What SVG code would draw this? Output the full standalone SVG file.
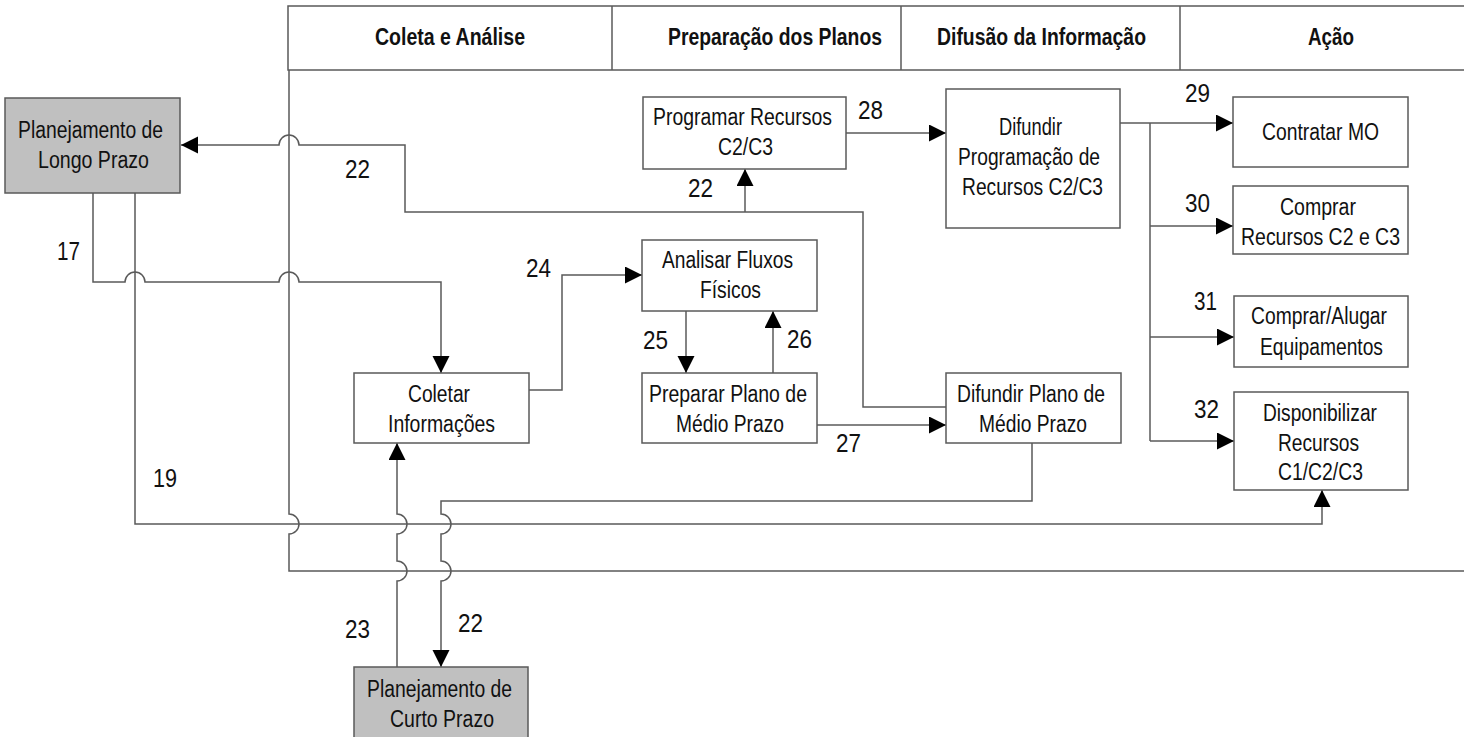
<svg xmlns="http://www.w3.org/2000/svg" width="1464" height="737" viewBox="0 0 1464 737">
  <style>
    .box { fill: #ffffff; stroke: #5a5a5a; stroke-width: 1.5; }
    .plan { fill: #c0c0c0; stroke: #5a5a5a; stroke-width: 1.5; }
    .wire { fill: none; stroke: #5a5a5a; stroke-width: 1.5; }
    .arr { fill: none; stroke: #5a5a5a; stroke-width: 1.5; marker-end: url(#head); }
    text { font-family: "Liberation Sans Narrow", "Liberation Sans", Arial, sans-serif; fill: #111111; }
    .lbl { font-size: 23.5px; text-anchor: middle; }
    .num { font-size: 26px; }
    .hdr { font-size: 23px; font-weight: bold; text-anchor: middle; }
  </style>
  <defs>
    <marker id="head" markerUnits="userSpaceOnUse" markerWidth="18" markerHeight="18" refX="17" refY="8.5" orient="auto">
      <path d="M0,0 L17,8.5 L0,17 Z" fill="#000000"/>
    </marker>
  </defs>

  <rect width="1464" height="737" fill="#ffffff"/>

  <!-- phase header -->
  <g id="header">
    <rect class="box" x="288" y="6" width="1190" height="64"/>
    <line class="wire" x1="612" y1="6" x2="612" y2="70"/>
    <line class="wire" x1="901" y1="6" x2="901" y2="70"/>
    <line class="wire" x1="1180" y1="6" x2="1180" y2="70"/>
    <text class="hdr" x="450" y="45" textLength="150" lengthAdjust="spacingAndGlyphs">Coleta e Análise</text>
    <text class="hdr" x="775" y="45" textLength="214" lengthAdjust="spacingAndGlyphs">Preparação dos Planos</text>
    <text class="hdr" x="1041.5" y="45" textLength="209" lengthAdjust="spacingAndGlyphs">Difusão da Informação</text>
    <text class="hdr" x="1331" y="45" textLength="46" lengthAdjust="spacingAndGlyphs">Ação</text>
  </g>

  <!-- connectors -->
  <g id="connectors">
    <!-- frame of the planning area -->
    <path class="wire" d="M289,70 V514 A10,10 0 0 1 289,534 V571 H1470"/>
    <!-- 22: medium-term plan back to long-term planning -->
    <path class="arr" d="M946,407 H863 V212 H405 V145 H299 A10,10 0 0 0 279,145 H181"/>
    <path class="arr" d="M745,212 V169"/>
    <!-- 17 -->
    <path class="arr" d="M93,193 V282 H125 A10,10 0 0 1 145,282 H279 A10,10 0 0 1 299,282 H441 V373"/>
    <!-- 19 -->
    <path class="arr" d="M135,193 V524 H1322 V490"/>
    <!-- 23 -->
    <path class="arr" d="M397,667 V581 A10,10 0 0 0 397,561 V534 A10,10 0 0 0 397,514 V443"/>
    <!-- 22: to short-term planning -->
    <path class="arr" d="M1032,443 V501 H441 V514 A10,10 0 0 1 441,534 V561 A10,10 0 0 1 441,581 V667"/>
    <!-- 24 -->
    <path class="arr" d="M529,390 H562 V275 H642"/>
    <!-- 25 / 26 -->
    <path class="arr" d="M686,311 V373"/>
    <path class="arr" d="M773,373 V311"/>
    <!-- 27 / 28 -->
    <path class="arr" d="M817,425 H946"/>
    <path class="arr" d="M846,133 H946"/>
    <!-- 29..32 -->
    <path class="arr" d="M1120,123 H1233"/>
    <path class="wire" d="M1150,123 V441"/>
    <path class="arr" d="M1150,226 H1233"/>
    <path class="arr" d="M1150,337 H1234"/>
    <path class="arr" d="M1150,441 H1234"/>

    <text class="num" x="345" y="178" textLength="25" lengthAdjust="spacingAndGlyphs">22</text>
    <text class="num" x="57" y="260" textLength="23" lengthAdjust="spacingAndGlyphs">17</text>
    <text class="num" x="153" y="487" textLength="24" lengthAdjust="spacingAndGlyphs">19</text>
    <text class="num" x="688" y="197" textLength="25" lengthAdjust="spacingAndGlyphs">22</text>
    <text class="num" x="858" y="119" textLength="25" lengthAdjust="spacingAndGlyphs">28</text>
    <text class="num" x="526" y="277" textLength="25" lengthAdjust="spacingAndGlyphs">24</text>
    <text class="num" x="643" y="349" textLength="25" lengthAdjust="spacingAndGlyphs">25</text>
    <text class="num" x="787" y="348" textLength="25" lengthAdjust="spacingAndGlyphs">26</text>
    <text class="num" x="836" y="452" textLength="25" lengthAdjust="spacingAndGlyphs">27</text>
    <text class="num" x="1185" y="102" textLength="25" lengthAdjust="spacingAndGlyphs">29</text>
    <text class="num" x="1185" y="212" textLength="25" lengthAdjust="spacingAndGlyphs">30</text>
    <text class="num" x="1194" y="310" textLength="23" lengthAdjust="spacingAndGlyphs">31</text>
    <text class="num" x="1194" y="418" textLength="25" lengthAdjust="spacingAndGlyphs">32</text>
    <text class="num" x="345" y="638" textLength="25" lengthAdjust="spacingAndGlyphs">23</text>
    <text class="num" x="458" y="632" textLength="25" lengthAdjust="spacingAndGlyphs">22</text>
  </g>

  <!-- nodes -->
  <g id="longo-prazo">
    <rect class="plan" x="5" y="98" width="175" height="95"/>
    <text class="lbl" x="90.5" y="138" textLength="145" lengthAdjust="spacingAndGlyphs">Planejamento de</text>
    <text class="lbl" x="93.5" y="168" textLength="111" lengthAdjust="spacingAndGlyphs">Longo Prazo</text>
  </g>

  <g id="curto-prazo">
    <rect class="plan" x="354" y="667" width="174" height="80"/>
    <text class="lbl" x="439.5" y="697" textLength="145" lengthAdjust="spacingAndGlyphs">Planejamento de</text>
    <text class="lbl" x="442" y="727" textLength="104" lengthAdjust="spacingAndGlyphs">Curto Prazo</text>
  </g>

  <g id="programar-recursos">
    <rect class="box" x="643" y="97" width="203" height="72"/>
    <!-- narrowed with a transform so the label stays clear of the "28" tag -->
    <text class="lbl" transform="translate(742.5,125) scale(0.826,1)" x="0" y="0">Programar Recursos</text>
    <text class="lbl" x="745.5" y="155" textLength="55" lengthAdjust="spacingAndGlyphs">C2/C3</text>
  </g>

  <g id="analisar-fluxos">
    <rect class="box" x="642" y="240" width="175" height="71"/>
    <text class="lbl" x="727.5" y="268" textLength="131" lengthAdjust="spacingAndGlyphs">Analisar Fluxos</text>
    <text class="lbl" x="730.5" y="298" textLength="61" lengthAdjust="spacingAndGlyphs">Físicos</text>
  </g>

  <g id="coletar-informacoes">
    <rect class="box" x="354" y="373" width="175" height="70"/>
    <text class="lbl" x="439" y="402" textLength="62" lengthAdjust="spacingAndGlyphs">Coletar</text>
    <text class="lbl" x="441.5" y="432" textLength="107" lengthAdjust="spacingAndGlyphs">Informações</text>
  </g>

  <g id="preparar-plano">
    <rect class="box" x="642" y="373" width="175" height="70"/>
    <text class="lbl" x="728" y="402" textLength="158" lengthAdjust="spacingAndGlyphs">Preparar Plano de</text>
    <text class="lbl" x="730" y="432" textLength="108" lengthAdjust="spacingAndGlyphs">Médio Prazo</text>
  </g>

  <g id="difundir-plano">
    <rect class="box" x="946" y="373" width="175" height="70"/>
    <text class="lbl" x="1031" y="402" textLength="148" lengthAdjust="spacingAndGlyphs">Difundir Plano de</text>
    <text class="lbl" x="1033" y="432" textLength="108" lengthAdjust="spacingAndGlyphs">Médio Prazo</text>
  </g>

  <g id="difundir-programacao">
    <rect class="box" x="946" y="89" width="174" height="139"/>
    <text class="lbl" x="1030.5" y="135" textLength="63" lengthAdjust="spacingAndGlyphs">Difundir</text>
    <text class="lbl" x="1029" y="165" textLength="142" lengthAdjust="spacingAndGlyphs">Programação de</text>
    <text class="lbl" x="1032.5" y="195" textLength="141" lengthAdjust="spacingAndGlyphs">Recursos C2/C3</text>
  </g>

  <g id="contratar-mo">
    <rect class="box" x="1233" y="97" width="175" height="70"/>
    <text class="lbl" x="1320.5" y="140" textLength="117" lengthAdjust="spacingAndGlyphs">Contratar MO</text>
  </g>

  <g id="comprar-recursos">
    <rect class="box" x="1233" y="186" width="175" height="68"/>
    <text class="lbl" x="1318" y="215" textLength="76" lengthAdjust="spacingAndGlyphs">Comprar</text>
    <text class="lbl" x="1320.5" y="245" textLength="159" lengthAdjust="spacingAndGlyphs">Recursos C2 e C3</text>
  </g>

  <g id="comprar-alugar">
    <rect class="box" x="1234" y="296" width="174" height="71"/>
    <text class="lbl" x="1319" y="324" textLength="136" lengthAdjust="spacingAndGlyphs">Comprar/Alugar</text>
    <text class="lbl" x="1321.5" y="355" textLength="123" lengthAdjust="spacingAndGlyphs">Equipamentos</text>
  </g>

  <g id="disponibilizar-recursos">
    <rect class="box" x="1234" y="392" width="174" height="98"/>
    <text class="lbl" x="1320" y="421" textLength="114" lengthAdjust="spacingAndGlyphs">Disponibilizar</text>
    <text class="lbl" x="1318.5" y="451" textLength="81" lengthAdjust="spacingAndGlyphs">Recursos</text>
    <text class="lbl" x="1320.5" y="480" textLength="85" lengthAdjust="spacingAndGlyphs">C1/C2/C3</text>
  </g>
</svg>
